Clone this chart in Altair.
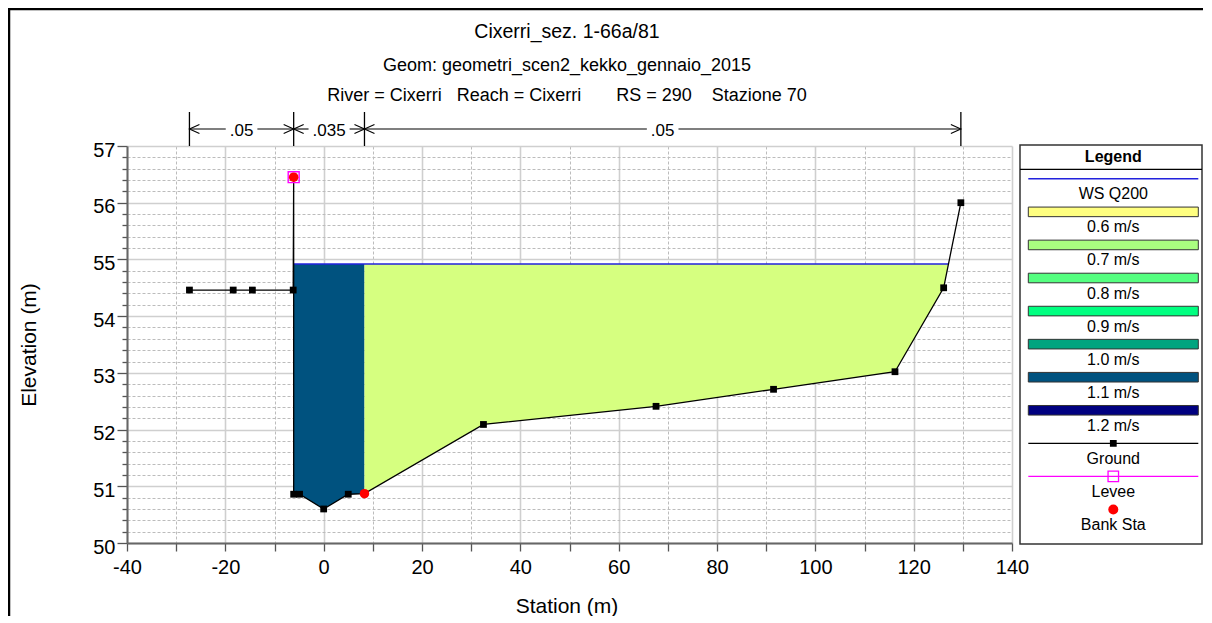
import altair as alt
import pandas as pd

# ---------------- data ----------------
ground_sta = [-27.3, -18.4, -14.5, -6.2, -6.1, -6.1, -4.9, 0.0, 5.0, 8.3,
              32.5, 67.6, 91.5, 116.2, 126.1, 129.6]
ground_elev = [54.46, 54.46, 54.46, 54.46, 56.45, 50.86, 50.86, 50.60, 50.86, 50.87,
               52.09, 52.41, 52.71, 53.02, 54.50, 56.00]
levee_index = 4
ws_elev = 54.92
levee_sta = [-6.1]
levee_elev = [56.45]
bank_sta = [-6.1, 8.3]
bank_elev = [56.45, 50.87]
n_bounds = [-27.3, -6.1, 8.3, 129.6]
n_values = [".05", ".035", ".05"]
vel_labels = ["0.6 m/s", "0.7 m/s", "0.8 m/s", "0.9 m/s", "1.0 m/s", "1.1 m/s", "1.2 m/s"]
vel_colors = ["#ffff80", "#aaff80", "#55ff80", "#00ff80", "#00a47f", "#00527f", "#000080"]
zone_colors = ["#00527f", "#d6ff80"]
legend_labels = ["WS Q200"] + vel_labels + ["Ground", "Levee", "Bank Sta"]
x_ticks = list(range(-40, 141, 10))
y_ticks = [round(50 + 0.2 * i, 1) for i in range(36)]
title_text = "Cixerri_sez. 1-66a/81"
geom_text = "Geom: geometri_scen2_kekko_gennaio_2015"
river_text = ("River = Cixerri\u00a0\u00a0 Reach = Cixerri\u00a0\u00a0\u00a0\u00a0\u00a0\u00a0 "
              "RS = 290\u00a0\u00a0\u00a0 Stazione 70")

FONT = "Liberation Sans"
W, H = 885, 397

# ---------------- wetted area (clip ground at WS) ----------------
pts = list(zip(ground_sta, ground_elev))[levee_index:]
wet = []
for (x0, y0), (x1, y1) in zip(pts[:-1], pts[1:]):
    if y0 < ws_elev:
        wet.append((x0, y0))
    if (y0 < ws_elev) != (y1 < ws_elev) and x1 != x0:
        t = (ws_elev - y0) / (y1 - y0)
        wet.append((x0 + t * (x1 - x0), ws_elev))
chan_pts = [p for p in wet if p[0] <= bank_sta[1]]
rob_pts = [p for p in wet if p[0] >= bank_sta[1]]
chan_df = pd.DataFrame({"sta": [p[0] for p in chan_pts], "elev": [p[1] for p in chan_pts],
                        "ws": [ws_elev] * len(chan_pts)})
rob_df = pd.DataFrame({"sta": [p[0] for p in rob_pts], "elev": [p[1] for p in rob_pts],
                       "ws": [ws_elev] * len(rob_pts)})
ws_left, ws_right = wet[0][0], wet[-1][0]

ground_df = pd.DataFrame({"sta": ground_sta, "elev": ground_elev, "i": range(len(ground_sta))})

# ---------------- scales & axes ----------------
xs = alt.Scale(domain=[-40, 140], nice=False, zero=False)
ys = alt.Scale(domain=[50, 57], nice=False, zero=False)

xaxis = alt.Axis(
    values=x_ticks, title=None, grid=True,
    gridColor={"condition": {"test": "datum.value % 20 === 0", "value": "#cfcfcf"}, "value": "#bcbcbc"},
    gridDash={"condition": {"test": "datum.value % 20 === 0", "value": []}, "value": [3, 2]},
    gridWidth={"condition": {"test": "datum.value % 20 === 0", "value": 1.6}, "value": 1},
    labelExpr="datum.value % 20 === 0 ? '' + datum.value : ''",
    labelFontSize=20, labelColor="black", labelPadding=6, labelFlush=False,
    labelOverlap=False, labelFont=FONT,
    tickSize=8, tickColor="#555555", tickWidth=1.3, domainColor="#666666", domainWidth=2,
)
yaxis = alt.Axis(
    values=y_ticks, title=None, grid=True,
    gridColor={"condition": {"test": "datum.value % 1 === 0", "value": "#cfcfcf"}, "value": "#bcbcbc"},
    gridDash={"condition": {"test": "datum.value % 1 === 0", "value": []}, "value": [3, 2]},
    gridWidth={"condition": {"test": "datum.value % 1 === 0", "value": 1.6}, "value": 1},
    tickSize={"condition": {"test": "datum.value % 1 === 0", "value": 10}, "value": 5},
    labelExpr="datum.value % 1 === 0 ? '' + datum.value : ''",
    labelFontSize=20, labelColor="black", labelPadding=2, labelOffset=4,
    labelOverlap=False, labelFont=FONT, labelFlush=False,
    tickColor="#555555", tickWidth=1.3, domainColor="#666666", domainWidth=2,
)
X = alt.X("sta:Q", scale=xs, axis=xaxis)
Y = alt.Y("elev:Q", scale=ys, axis=yaxis)

# ---------------- main plot layers ----------------
area_chan = alt.Chart(chan_df).mark_area(color=zone_colors[0], opacity=1).encode(
    x=X, y=Y, y2=alt.Y2("ws:Q"))
area_rob = alt.Chart(rob_df).mark_area(color=zone_colors[1], opacity=1).encode(
    x=X, y=Y, y2=alt.Y2("ws:Q"))
ws_line = alt.Chart(pd.DataFrame({"sta": [ws_left], "sta2": [ws_right], "elev": [ws_elev]})).mark_rule(
    color="#2222dd", strokeWidth=1.6).encode(x=X, x2="sta2:Q", y=Y)
ground_line = alt.Chart(ground_df).mark_line(color="black", strokeWidth=1.3).encode(x=X, y=Y, order="i:Q")
ground_pts = alt.Chart(ground_df).mark_square(color="black", size=46, opacity=1).encode(x=X, y=Y)
levee = alt.Chart(pd.DataFrame({"sta": levee_sta, "elev": levee_elev})).mark_square(
    filled=False, color="#ff00ff", size=120, strokeWidth=1.4, opacity=1).encode(x=X, y=Y)
bank = alt.Chart(pd.DataFrame({"sta": bank_sta, "elev": bank_elev})).mark_circle(
    color="#ff0000", size=90, opacity=1).encode(x=X, y=Y)

# Manning's n annotation above the plot
n_layers = [
    alt.Chart(pd.DataFrame({"sta": n_bounds})).mark_rule(color="black", strokeWidth=1.3).encode(
        x=X, y=alt.value(-34), y2=alt.value(0))
]
for j, lab in enumerate(n_values):
    left, right = n_bounds[j], n_bounds[j + 1]
    mid = (left + right) / 2
    gap = 17 * (0.278 + 0.556 * (len(lab) - 1)) + 8
    n_layers.append(alt.Chart(pd.DataFrame({"sta": [left], "sta2": [mid]})).mark_rule(
        color="black", strokeWidth=1.1, x2Offset=-gap / 2).encode(x=X, x2="sta2:Q", y=alt.value(-17)))
    n_layers.append(alt.Chart(pd.DataFrame({"sta": [mid], "sta2": [right]})).mark_rule(
        color="black", strokeWidth=1.1, xOffset=gap / 2).encode(x=X, x2="sta2:Q", y=alt.value(-17)))
    n_layers.append(alt.Chart(pd.DataFrame({"sta": [left]})).mark_point(
        shape="M 2 -0.9 L 0 0 L 2 0.9", size=100, color="black", strokeWidth=1.1, opacity=1).encode(
        x=X, y=alt.value(-17)))
    n_layers.append(alt.Chart(pd.DataFrame({"sta": [right]})).mark_point(
        shape="M -2 -0.9 L 0 0 L -2 0.9", size=100, color="black", strokeWidth=1.1, opacity=1).encode(
        x=X, y=alt.value(-17)))
    n_layers.append(alt.Chart(pd.DataFrame({"sta": [mid], "t": [lab]})).mark_text(
        fontSize=17, font=FONT, color="black", align="center", baseline="alphabetic").encode(
        x=X, y=alt.value(-10), text="t:N"))


def label(txt, x, y, size, align="center", angle=0, weight="normal"):
    return alt.Chart(pd.DataFrame({"t": [txt]})).mark_text(
        fontSize=size, font=FONT, color="black", align=align, baseline="alphabetic",
        angle=angle, fontWeight=weight).encode(text="t:N", x=alt.value(x), y=alt.value(y))


texts = [
    label(title_text, 440, -108, 19.5),
    label(geom_text, 440, -75, 18),
    label(river_text, 440, -45, 18),
    label("Station (m)", 440, 467, 21),
    label("Elevation (m)", -91, 199, 21, angle=270),
]

# frame lines of the window
frame = [
    alt.Chart(pd.DataFrame({"a": [0]})).mark_rule(color="black", strokeWidth=2.5).encode(
        x=alt.value(-119), x2=alt.value(1076), y=alt.value(-137)),
    alt.Chart(pd.DataFrame({"a": [0]})).mark_rule(color="black", strokeWidth=2.5).encode(
        x=alt.value(-118), y=alt.value(-138), y2=alt.value(475)),
]

main = alt.layer(area_chan, area_rob, ws_line, ground_line, ground_pts, levee, bank,
                 *n_layers, *texts, *frame)

# ---------------- custom legend ----------------
LY = alt.Y("idx:Q", scale=alt.Scale(domain=[0, 10], range=[32.8, 363.5]), axis=None)
leg_df = pd.DataFrame({"idx": list(range(len(legend_labels))), "t": legend_labels})
sw_df = pd.DataFrame({"idx": list(range(1, 1 + len(vel_labels))), "c": vel_colors})
LX0, LX1, LXC = 901.3, 1071.3, 986.3

box = alt.Chart(pd.DataFrame({"a": [0]})).mark_rect(
    fill="white", stroke="#333333", strokeWidth=1.5).encode(
    x=alt.value(893), x2=alt.value(1075), y=alt.value(-1), y2=alt.value(398))
leg_title = label("Legend", LXC, 15.5, 16, weight="bold")
sep = alt.Chart(pd.DataFrame({"a": [0]})).mark_rule(color="black", strokeWidth=1.2).encode(
    x=alt.value(893), x2=alt.value(1075), y=alt.value(23.3))
swatches = alt.Chart(sw_df).mark_rect(stroke="#333333", strokeWidth=1, yOffset=-4.8, y2Offset=4.8).encode(
    x=alt.value(LX0), x2=alt.value(LX1), y=LY, y2="idx:Q", fill=alt.Fill("c:N", scale=None))
leg_text = alt.Chart(leg_df).mark_text(fontSize=16, font=FONT, color="black", baseline="middle",
                                       align="center", yOffset=15.5).encode(
    x=alt.value(LXC), y=LY, text="t:N")
leg_ws = alt.Chart(leg_df[leg_df.idx == 0]).mark_rule(color="#2222dd", strokeWidth=1.4).encode(
    x=alt.value(LX0), x2=alt.value(LX1), y=LY)
leg_gr = alt.Chart(leg_df[leg_df.idx == 8]).mark_rule(color="black", strokeWidth=1.3).encode(
    x=alt.value(LX0), x2=alt.value(LX1), y=LY)
leg_grp = alt.Chart(leg_df[leg_df.idx == 8]).mark_square(color="black", size=46, opacity=1).encode(
    x=alt.value(LXC), y=LY)
leg_lv = alt.Chart(leg_df[leg_df.idx == 9]).mark_rule(color="#ff00ff", strokeWidth=1.2).encode(
    x=alt.value(LX0), x2=alt.value(LX1), y=LY)
leg_lvp = alt.Chart(leg_df[leg_df.idx == 9]).mark_square(filled=False, color="#ff00ff", size=110,
                                                         strokeWidth=1.3, opacity=1).encode(
    x=alt.value(LXC), y=LY)
leg_bk = alt.Chart(leg_df[leg_df.idx == 10]).mark_circle(color="#ff0000", size=100, opacity=1).encode(
    x=alt.value(LXC), y=LY)

legend = alt.layer(box, leg_title, sep, swatches, leg_text, leg_ws, leg_gr, leg_grp, leg_lv, leg_lvp, leg_bk)

chart = alt.layer(main, legend).resolve_scale(y="independent").properties(
    width=W, height=H,
    autosize=alt.AutoSizeParams(type="none"),
    padding={"left": 119, "top": 138, "right": 191, "bottom": 73},
    background="white",
).configure_view(stroke=None).configure_text(font=FONT)

chart.save("out.html", embed_options={"renderer": "svg", "actions": False})
